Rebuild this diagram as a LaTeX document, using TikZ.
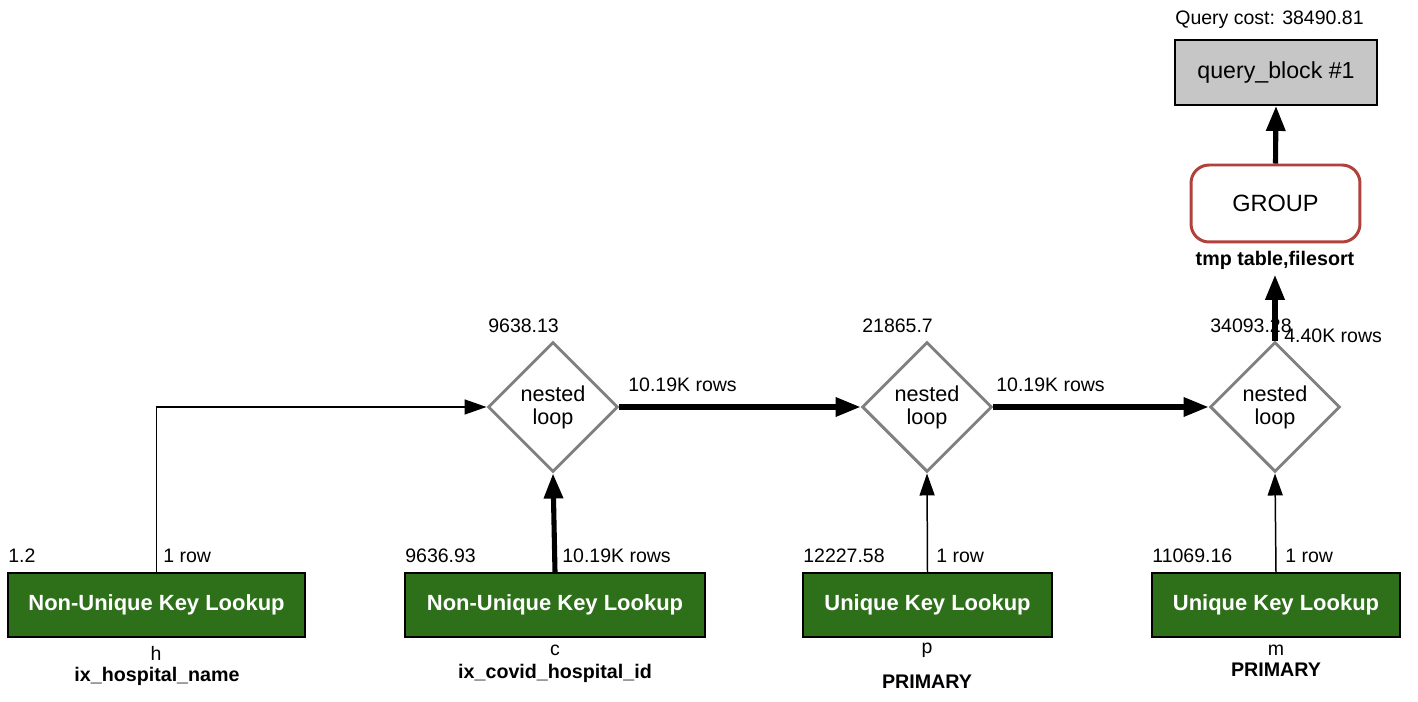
\documentclass[tikz,border=0pt]{standalone}
\usepackage{fontspec}
\setmainfont{Liberation Sans}
\usetikzlibrary{shapes.geometric,arrows.meta}
\definecolor{lookupgreen}{RGB}{46,112,26}
\definecolor{blockgray}{RGB}{198,198,198}
\definecolor{grouprim}{RGB}{176,65,60}
\definecolor{loopgray}{RGB}{128,128,128}
\tikzset{
  lookup/.style={draw=black, line width=1.1pt, fill=lookupgreen, text=white,
    font=\fontsize{12.5}{14}\selectfont\bfseries, minimum height=1.28cm, inner sep=0pt},
  loopnode/.style={diamond, draw=loopgray, line width=1.7pt, fill=white, aspect=1,
    minimum width=2.6cm, minimum height=2.6cm, inner sep=0pt, align=center,
    font=\fontsize{12.3}{13}\selectfont},
  blocknode/.style={draw=black, line width=1.1pt, fill=blockgray, minimum width=4.04cm,
    minimum height=1.3cm, font=\fontsize{13.2}{15}\selectfont},
  groupnode/.style={draw=grouprim, line width=1.7pt, rounded corners=0.36cm, fill=white,
    minimum width=3.38cm, minimum height=1.54cm, font=\fontsize{13.4}{15}\selectfont},
  lbl/.style={font=\fontsize{11.1}{13}\selectfont, inner sep=0pt},
  boldlbl/.style={font=\fontsize{11.2}{13}\selectfont\bfseries, inner sep=0pt},
  thinflow/.style={line width=0.85pt, -{Triangle[length=0.44cm,width=0.3cm]}},
  thickflow/.style={line width=2.9pt, -{Triangle[length=0.5cm,width=0.37cm]}},
}
\begin{document}
\begin{tikzpicture}[x=0.02cm,y=-0.02cm]
\useasboundingbox (0,0) rectangle (1418,702);

% query block and grouping
\node[lbl, anchor=west] (cost) at (1175,20) {Query cost: 38490.81};
\node[blocknode] (qb) at (1276,72.5) {query\_block \#1};
\node[groupnode] (grp) at (1275.5,203.5) {GROUP};
\node[boldlbl, inner sep=3pt] (grplbl) at (1275,260) {tmp table,filesort};

% nested loops
\node[loopnode] (d1) at (553,407) {nested\\loop};
\node[loopnode] (d2) at (927,407) {nested\\loop};
\node[loopnode] (d3) at (1275,407) {nested\\loop};
\node[lbl, anchor=west] (d1cost) at (488,326) {9638.13};
\node[lbl, anchor=west] (d2cost) at (862,326) {21865.7};
\node[lbl, anchor=west] (d3cost) at (1210,326) {34093.28};

% table accesses
\node[lookup, minimum width=5.94cm] (b1) at (156.5,605) {Non-Unique Key Lookup};
\node[lookup, minimum width=6.0cm] (b2) at (555,605) {Non-Unique Key Lookup};
\node[lookup, minimum width=4.98cm] (b3) at (927.5,605) {Unique Key Lookup};
\node[lookup, minimum width=4.96cm] (b4) at (1276,605) {Unique Key Lookup};

\node[lbl, anchor=west] (b1cost) at (8,556) {1.2};
\node[lbl, anchor=west] (b2cost) at (405,556) {9636.93};
\node[lbl, anchor=west] (b3cost) at (803,556) {12227.58};
\node[lbl, anchor=west] (b4cost) at (1152,556) {11069.16};

\node[lbl] (b1tab) at (156,653) {h};
\node[boldlbl] (b1key) at (157,676) {ix\_hospital\_name};
\node[lbl] (b2tab) at (555,650) {c};
\node[boldlbl] (b2key) at (555,673) {ix\_covid\_hospital\_id};
\node[lbl] (b3tab) at (927,650) {p};
\node[boldlbl] (b3key) at (927,682) {PRIMARY};
\node[lbl] (b4tab) at (1276,650) {m};
\node[boldlbl] (b4key) at (1276,670) {PRIMARY};

% row counts
\node[lbl, anchor=west] (r1) at (163,556) {1 row};
\node[lbl, anchor=west] (r2) at (562,556) {10.19K rows};
\node[lbl, anchor=west] (r3) at (936,556) {1 row};
\node[lbl, anchor=west] (r4) at (1285,556) {1 row};
\node[lbl, anchor=west] (r5) at (628,385) {10.19K rows};
\node[lbl, anchor=west] (r6) at (996,385) {10.19K rows};
\node[lbl, anchor=west] (r7) at (1284,336) {4.40K rows};

% connectors
\draw[thinflow] (b1.north) |- (d1.west);
\draw[thickflow] (b2.north) -- (d1.south);
\draw[thinflow] (b3.north) -- (d2.south);
\draw[thinflow] (b4.north) -- (d3.south);
\draw[thickflow] (d1.east) -- (d2.west);
\draw[thickflow] (d2.east) -- (d3.west);
\draw[thickflow] (d3.north) -- (grplbl.south);
\draw[thickflow] (grp.north) -- (qb.south);
\end{tikzpicture}
\end{document}
